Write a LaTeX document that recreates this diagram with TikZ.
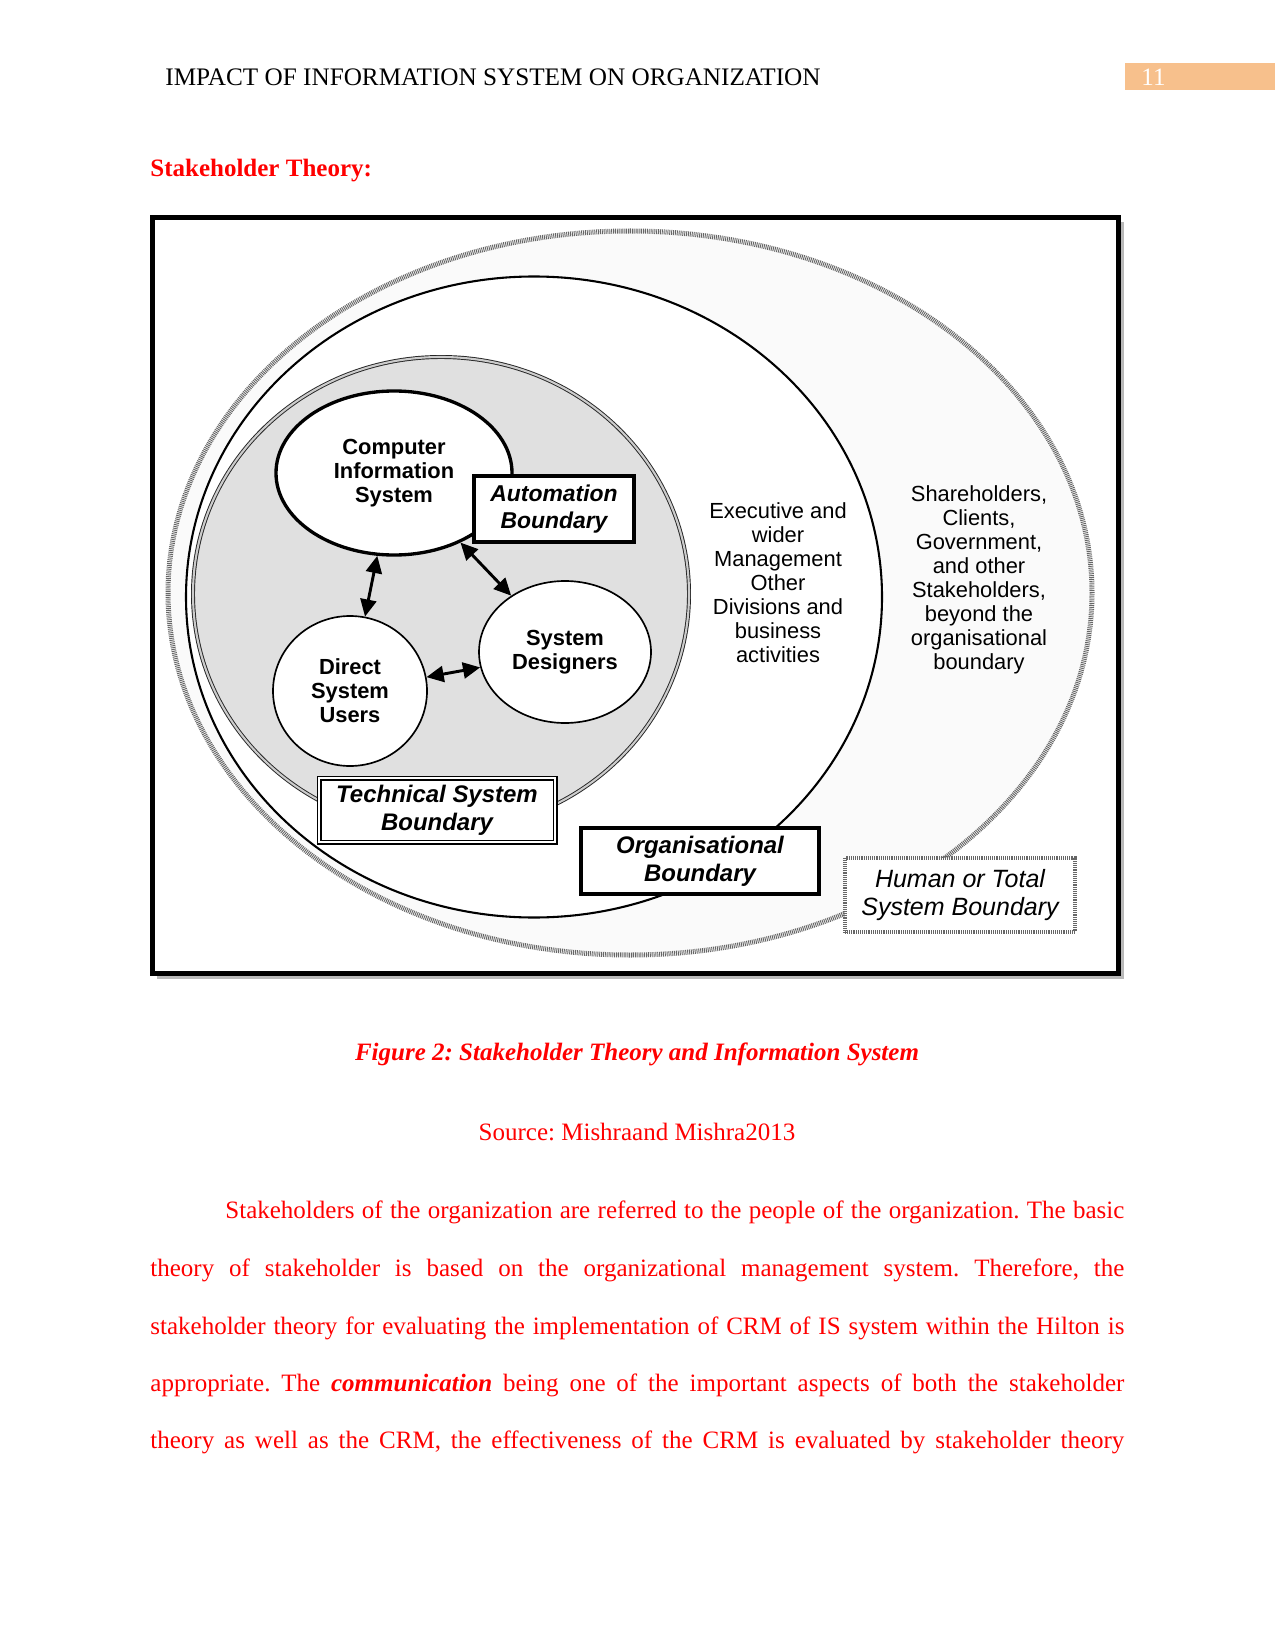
\documentclass[tikz,border=0pt]{standalone}
\usepackage{fontspec}
\setmainfont{Liberation Serif}
\setsansfont{Liberation Sans}
\usetikzlibrary{arrows.meta,positioning,shapes.geometric}
\definecolor{DocRed}{HTML}{FF0000}
\definecolor{TabOrange}{HTML}{F7C08C}
\definecolor{TechGray}{HTML}{E0E0E0}
\definecolor{HumanGray}{HTML}{FAFAFA}
\newcommand\pxl{0.48pt}
\frenchspacing

\begin{document}
\begin{tikzpicture}[x=0.48pt,y=-0.48pt,
  ent/.style={ellipse,draw,fill=white,align=center,inner sep=0pt,
    font=\sffamily\bfseries\fontsize{10.5}{11.5}\selectfont},
  bnd/.style={draw,fill=white,align=center,inner sep=0pt,
    font=\sffamily\bfseries\itshape\fontsize{11.5}{13.6}\selectfont},
  dotline/.style={draw=black!60,line width=2.4pt,dash pattern=on 0.45pt off 0.45pt},
  arr/.style={{Triangle[length=2.9mm,width=2.7mm]}-{Triangle[length=2.9mm,width=2.7mm]},line width=1.4pt},
  body/.style={anchor=base west,inner sep=0pt,text=DocRed,font=\fontsize{12}{14}\selectfont}
]
\useasboundingbox (0,0) rectangle (1275,1650);
\fill[white] (0,0) rectangle (1275,1650);

% page header
\node[anchor=base west,inner sep=0pt,font=\fontsize{12.1}{14}\selectfont] (head) at (165,86) {IMPACT OF INFORMATION SYSTEM ON ORGANIZATION};
\fill[TabOrange] (1125,63) rectangle (1275,90);
\node[anchor=base west,inner sep=0pt,text=white,font=\fontsize{12}{14}\selectfont] (pgno) at (1141,86) {11};
\node[body,font=\bfseries\fontsize{12}{14}\selectfont] (title) at (150,177) {Stakeholder Theory:};

% frame
\fill[gray!55] (157,222) rectangle (1124,979);
\draw[line width=2.5pt,fill=white] (152.5,217.5) rectangle (1118.5,973.5);

% boundaries
\node[ellipse,minimum width=924*\pxl,minimum height=724*\pxl,fill=HumanGray,dotline] (human) at (630,593) {};
\node[ellipse,minimum width=696*\pxl,minimum height=641*\pxl,draw,line width=1pt,fill=white] (org) at (534,597) {};
\node[ellipse,minimum width=496*\pxl,minimum height=474*\pxl,draw=black!85,double=gray!40,double distance=1pt,line width=0.45pt,fill=TechGray] (tech) at (441,594) {};

% people and system
\node[ent,line width=1.6pt,minimum width=236*\pxl,minimum height=164*\pxl] (cis) at (394,473) {Computer\\Information\\System};
\node[ent,line width=0.8pt,minimum width=154*\pxl,minimum height=150*\pxl] (dsu) at (350,691) {Direct\\System\\Users};
\node[ent,line width=0.8pt,minimum width=172*\pxl,minimum height=142*\pxl] (sd) at (565,652) {System\\Designers};
\draw[arr] (cis) -- (dsu);
\draw[arr] (cis) -- (sd);
\draw[arr] (dsu) -- (sd);

% boundary labels
\node[bnd,line width=2pt,font=\sffamily\bfseries\itshape\fontsize{11}{12.6}\selectfont,minimum width=160*\pxl,minimum height=66*\pxl] (autolbl) at (554,509) {Automation\\Boundary};
\node[bnd,double,double distance=1.2pt,line width=0.6pt,minimum width=236*\pxl,minimum height=64*\pxl] (techlbl) at (437,810) {Technical System\\Boundary};
\node[bnd,line width=1.5pt,minimum width=238*\pxl,minimum height=66*\pxl] (orglbl) at (700,861) {Organisational\\Boundary};
\node[bnd,dotline,line width=2.2pt,font=\sffamily\itshape\fontsize{12}{13.6}\selectfont,minimum width=230*\pxl,minimum height=74*\pxl] (humanlbl) at (960,895) {Human or Total\\System Boundary};

\node[align=center,font=\sffamily\fontsize{10.5}{11.5}\selectfont] (exec) at (778,583) {Executive and\\wider\\Management\\Other\\Divisions and\\business\\activities};
\node[align=center,font=\sffamily\fontsize{10.5}{11.5}\selectfont] (stake) at (979,580) {Shareholders,\\Clients,\\Government,\\and other\\Stakeholders,\\beyond the\\organisational\\boundary};

% caption and text
\node[anchor=base,inner sep=0pt,text=DocRed,font=\bfseries\itshape\fontsize{12}{14}\selectfont] (cap) at (637,1060) {Figure 2: Stakeholder Theory and Information System};
\node[anchor=base,inner sep=0pt,text=DocRed,font=\fontsize{12}{14}\selectfont] (src) at (637,1140) {Source: Mishraand Mishra2013};

\node[body] (l1) at (225,1218) {\makebox[431.5pt][s]{Stakeholders of the organization are referred to the people of the organization. The basic}};
\node[body] (l2) at (150,1276) {\makebox[467.5pt][s]{theory of stakeholder is based on the organizational management system. Therefore, the}};
\node[body] (l3) at (150,1334) {\makebox[467.5pt][s]{stakeholder theory for evaluating the implementation of CRM of IS system within the Hilton is}};
\node[body] (l4) at (150,1391) {\makebox[467.5pt][s]{appropriate. The \textbf{\textit{communication}} being one of the important aspects of both the stakeholder}};
\node[body] (l5) at (150,1448) {\makebox[467.5pt][s]{theory as well as the CRM, the effectiveness of the CRM is evaluated by stakeholder theory}};
\end{tikzpicture}
\end{document}
